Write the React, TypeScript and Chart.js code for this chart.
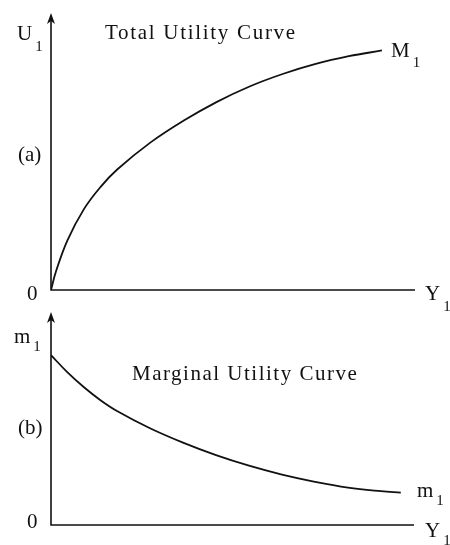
import React, { useEffect, useRef } from "react";
import { Chart, registerables } from "chart.js";

Chart.register(...registerables);

// Income (Y1) and utility readings for the two panels
const incomeTotal = [0, 0.15, 0.5, 1, 1.5, 2, 3, 4, 5, 6, 7, 8, 9, 10];
const totalUtility = [0, 0.77, 2.08, 3.38, 4.3, 5.02, 6.14, 7.05, 7.83, 8.48, 9.0, 9.42, 9.74, 9.98];

const incomeMarginal = [0, 0.5, 1, 1.5, 2, 3, 4, 5, 6, 7, 8, 9, 10, 10.6];
const marginalUtility = [7.08, 6.36, 5.74, 5.2, 4.75, 4.03, 3.43, 2.91, 2.47, 2.1, 1.8, 1.56, 1.41, 1.35];

const X_MAX = 11;
const INK = "#111111";
const SERIF = '"Liberation Serif", "Times New Roman", serif';

type Label = {
  text: string;
  x: number;
  y: number;
  sub?: string;
  subDrop?: number;
  spacing?: number;
};

// Draws the arrowed axes and the typeset labels of each panel
const figurePlugin = {
  id: "figureMarks",
  afterDraw(chart: any, _args: any, opts: any) {
    const { ctx, chartArea, scales } = chart;
    const x0 = scales.x.getPixelForValue(0);
    const y0 = scales.y.getPixelForValue(0);
    const top = chartArea.top;
    ctx.save();
    ctx.strokeStyle = INK;
    ctx.fillStyle = INK;
    ctx.lineWidth = 1.6;
    ctx.lineCap = "butt";
    ctx.beginPath();
    ctx.moveTo(x0, top + 8);
    ctx.lineTo(x0, y0);
    ctx.lineTo(scales.x.getPixelForValue(X_MAX), y0);
    ctx.stroke();

    // arrowhead on the vertical axis
    ctx.beginPath();
    ctx.moveTo(x0, top);
    ctx.lineTo(x0 - 4, top + 11);
    ctx.lineTo(x0, top + 8);
    ctx.lineTo(x0 + 4, top + 11);
    ctx.closePath();
    ctx.fill();

    ctx.textBaseline = "alphabetic";
    ctx.textAlign = "left";
    for (const l of opts.labels as Label[]) {
      ctx.font = `21px ${SERIF}`;
      (ctx as any).letterSpacing = `${l.spacing ?? 0}px`;
      ctx.fillText(l.text, l.x, l.y);
      if (l.sub) {
        const w = ctx.measureText(l.text).width;
        (ctx as any).letterSpacing = "0px";
        ctx.font = `15px ${SERIF}`;
        ctx.fillText(l.sub, l.x + w + 3, l.y + (l.subDrop ?? 10));
      }
    }
    (ctx as any).letterSpacing = "0px";
    ctx.restore();
  },
};

type PanelProps = {
  top: number;
  height: number;
  xs: number[];
  ys: number[];
  yMax: number;
  padding: { left: number; right: number; top: number; bottom: number };
  labels: Label[];
};

function Panel({ top, height, xs, ys, yMax, padding, labels }: PanelProps) {
  const ref = useRef<HTMLCanvasElement | null>(null);

  useEffect(() => {
    if (!ref.current) return;
    const chart = new Chart(ref.current, {
      type: "line",
      data: {
        datasets: [
          {
            data: xs.map((x, i) => ({ x, y: ys[i] })),
            borderColor: INK,
            borderWidth: 1.8,
            pointRadius: 0,
            fill: false,
            tension: 0.4,
          },
        ],
      },
      options: {
        animation: false,
        responsive: false,
        events: [],
        layout: { padding },
        plugins: {
          legend: { display: false },
          tooltip: { enabled: false },
          figureMarks: { labels },
        } as any,
        scales: {
          x: { type: "linear", display: false, min: 0, max: X_MAX },
          y: { type: "linear", display: false, min: 0, max: yMax },
        },
      },
      plugins: [figurePlugin],
    });
    return () => chart.destroy();
  }, []);

  return (
    <canvas
      ref={ref}
      width={450}
      height={height}
      style={{ display: "block", position: "absolute", left: 0, top }}
    />
  );
}

export default function App() {
  return (
    <div
      style={{
        position: "absolute",
        left: 0,
        top: 0,
        width: 450,
        height: 545,
        background: "#ffffff",
        overflow: "hidden",
      }}
    >
      <Panel
        top={0}
        height={320}
        xs={incomeTotal}
        ys={totalUtility}
        yMax={277 / 24}
        padding={{ left: 51, right: 35, top: 13, bottom: 30 }}
        labels={[
          { text: "U", sub: "1", x: 17, y: 40, subDrop: 11 },
          { text: "Total Utility Curve", x: 105, y: 39, spacing: 1.7 },
          { text: "M", sub: "1", x: 391, y: 57, subDrop: 10 },
          { text: "(a)", x: 18, y: 161 },
          { text: "0", x: 27, y: 300 },
          { text: "Y", sub: "1", x: 425, y: 300, subDrop: 11 },
        ]}
      />
      <Panel
        top={300}
        height={245}
        xs={incomeMarginal}
        ys={marginalUtility}
        yMax={213 / 24}
        padding={{ left: 51, right: 36, top: 12, bottom: 20 }}
        labels={[
          { text: "m", sub: "1", x: 14, y: 43, subDrop: 8 },
          { text: "Marginal Utility Curve", x: 132, y: 80, spacing: 1.5 },
          { text: "(b)", x: 18, y: 134 },
          { text: "0", x: 27, y: 228 },
          { text: "m", sub: "1", x: 417, y: 197, subDrop: 8 },
          { text: "Y", sub: "1", x: 425, y: 237, subDrop: 8 },
        ]}
      />
    </div>
  );
}
